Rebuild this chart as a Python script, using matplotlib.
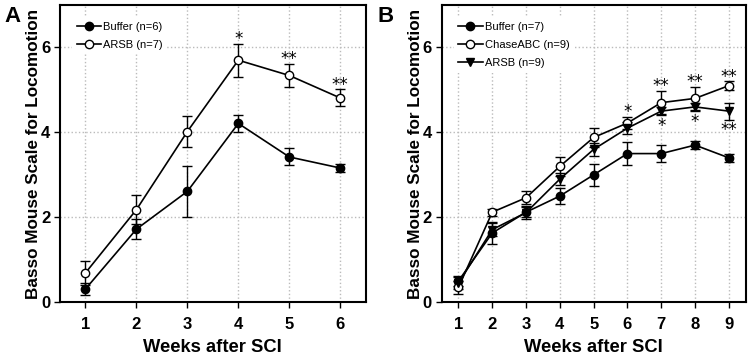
import numpy as np
import matplotlib.pyplot as plt

plt.rcParams['font.family'] = ['Liberation Sans', 'DejaVu Sans']

# panel A
weeks_a = [1, 2, 3, 4, 5, 6]
buffer_a = [0.31, 1.72, 2.61, 4.21, 3.42, 3.16]
buffer_a_err = [0.15, 0.23, 0.6, 0.2, 0.2, 0.1]
arsb_a = [0.69, 2.18, 4.02, 5.70, 5.34, 4.81]
arsb_a_err = [0.28, 0.34, 0.37, 0.39, 0.27, 0.2]
stars_a = ['', '', '', '*', '**', '**']

# panel B
weeks_b = [1, 2, 3, 4, 5, 6, 7, 8, 9]
buffer_b = [0.5, 1.63, 2.12, 2.5, 3.0, 3.5, 3.5, 3.7, 3.4]
buffer_b_err = [0.12, 0.25, 0.12, 0.18, 0.26, 0.27, 0.2, 0.1, 0.1]
chase_b = [0.35, 2.12, 2.46, 3.2, 3.88, 4.22, 4.7, 4.8, 5.1]
chase_b_err = [0.15, 0.08, 0.15, 0.23, 0.23, 0.15, 0.27, 0.28, 0.1]
arsb_b = [0.45, 1.71, 2.11, 2.9, 3.6, 4.1, 4.5, 4.6, 4.5]
arsb_b_err = [0.15, 0.16, 0.15, 0.15, 0.16, 0.15, 0.1, 0.1, 0.2]
stars_chase = ['', '', '', '', '', '*', '**', '**', '**']
stars_arsb = ['', '', '', '', '', '', '*', '*', '**']

fig = plt.figure(figsize=(7.51, 3.58), dpi=100)
axA = fig.add_axes([0.0799, 0.156, 0.4071, 0.830])
axB = fig.add_axes([0.588, 0.156, 0.405, 0.830])

def style(ax, weeks):
    ax.set_xlim(0.5, len(weeks) + 0.5)
    ax.set_ylim(0, 7)
    ax.set_xticks(weeks)
    ax.set_yticks([0, 2, 4, 6])
    ax.grid(True, ls=':', color='#bbbbbb', lw=1)
    ax.set_axisbelow(True)
    for s in ax.spines.values():
        s.set_linewidth(1.5)
    ax.tick_params(labelsize=12, width=1, length=4)
    ax.tick_params(axis='x', pad=7)
    ax.tick_params(axis='y', pad=3)
    for lab in ax.get_xticklabels() + ax.get_yticklabels():
        lab.set_fontweight('bold')
    ax.set_xlabel('Weeks after SCI', fontsize=13.2, fontweight='bold', labelpad=5)
    ax.set_ylabel('Basso Mouse Scale for Locomotion', fontsize=12.3, fontweight='bold', labelpad=0)

def series(ax, x, y, e, marker, fc, label):
    c = ax.errorbar(x, y, yerr=e, color='black', marker=marker, ms=6, mfc=fc, mec='black',
                    mew=1, lw=1.2, elinewidth=1, capsize=3.5, capthick=1)
    c[0].set_label(label)
    return c[0]

def legend(ax, handles):
    leg = ax.legend(handles=handles, loc='upper left', frameon=True, handlelength=2.2,
                    borderaxespad=1.1, labelspacing=0.75, handletextpad=0.2,
                    prop={'family': ['Liberation Sans Narrow', 'Liberation Sans'], 'size': 8})
    leg.get_frame().set_edgecolor('none')
    leg.get_frame().set_facecolor('white')
    leg.get_frame().set_alpha(1)

style(axA, weeks_a)
hA = [series(axA, weeks_a, buffer_a, buffer_a_err, 'o', 'black', 'Buffer (n=6)'),
      series(axA, weeks_a, arsb_a, arsb_a_err, 'o', 'white', 'ARSB (n=7)')]
for x, y, e, s in zip(weeks_a, arsb_a, arsb_a_err, stars_a):
    if s:
        axA.annotate(s, (x, y + e), xytext=(0, -3), textcoords='offset points',
                     ha='center', va='bottom', fontsize=12, family='DejaVu Sans')
legend(axA, hA)

style(axB, weeks_b)
hB = [series(axB, weeks_b, buffer_b, buffer_b_err, 'o', 'black', 'Buffer (n=7)'),
      series(axB, weeks_b, chase_b, chase_b_err, 'o', 'white', 'ChaseABC (n=9)'),
      series(axB, weeks_b, arsb_b, arsb_b_err, 'v', 'black', 'ARSB (n=9)')]
for x, y, e, s in zip(weeks_b, chase_b, chase_b_err, stars_chase):
    if s:
        axB.annotate(s, (x, y + e), xytext=(0, -3), textcoords='offset points',
                     ha='center', va='bottom', fontsize=12, family='DejaVu Sans')
for x, y, e, s in zip(weeks_b, arsb_b, arsb_b_err, stars_arsb):
    if s:
        axB.annotate(s, (x, y - e), xytext=(0, -1), textcoords='offset points',
                     ha='center', va='top', fontsize=12, family='DejaVu Sans')
legend(axB, hB)

fig.text(0.006, 0.953, 'A', fontsize=16, fontweight='bold', va='center')
fig.text(0.503, 0.953, 'B', fontsize=16, fontweight='bold', va='center')

fig.savefig('out.png', dpi=100)
